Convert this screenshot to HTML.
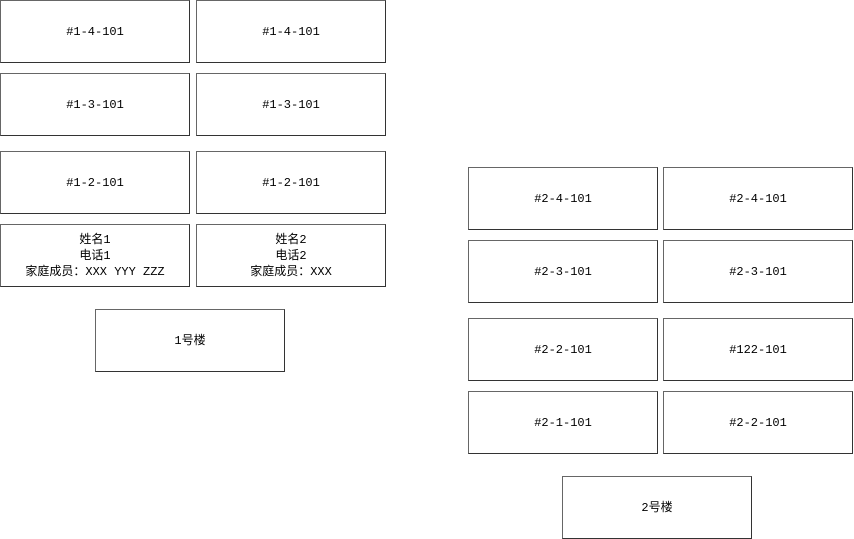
<!DOCTYPE html>
<html><head><meta charset="utf-8"><style>
html,body{margin:0;padding:0;background:#fff;width:854px;height:539px;overflow:hidden;position:relative}
.b{position:absolute;box-sizing:border-box;border:1px solid #666;border-right-color:#333;border-bottom-color:#333;display:flex;align-items:center;justify-content:center;text-align:center;font-family:"Liberation Mono","WenQuanYi Zen Hei",monospace;font-size:12px;line-height:16px;color:#000;width:190px;height:63px}
</style></head><body>
<div class="b" style="left:0;top:0">#1-4-101</div>
<div class="b" style="left:196;top:0;left:196px">#1-4-101</div>
<div class="b" style="left:0;top:73px">#1-3-101</div>
<div class="b" style="left:196px;top:73px">#1-3-101</div>
<div class="b" style="left:0;top:151px">#1-2-101</div>
<div class="b" style="left:196px;top:151px">#1-2-101</div>
<div class="b" style="left:0;top:224px">姓名1<br>电话1<br>家庭成员：XXX YYY ZZZ</div>
<div class="b" style="left:196px;top:224px">姓名2<br>电话2<br>家庭成员：XXX</div>
<div class="b" style="left:95px;top:309px">1号楼</div>
<div class="b" style="left:468px;top:167px">#2-4-101</div>
<div class="b" style="left:663px;top:167px">#2-4-101</div>
<div class="b" style="left:468px;top:240px">#2-3-101</div>
<div class="b" style="left:663px;top:240px">#2-3-101</div>
<div class="b" style="left:468px;top:318px">#2-2-101</div>
<div class="b" style="left:663px;top:318px">#122-101</div>
<div class="b" style="left:468px;top:391px">#2-1-101</div>
<div class="b" style="left:663px;top:391px">#2-2-101</div>
<div class="b" style="left:562px;top:476px">2号楼</div>
</body></html>
